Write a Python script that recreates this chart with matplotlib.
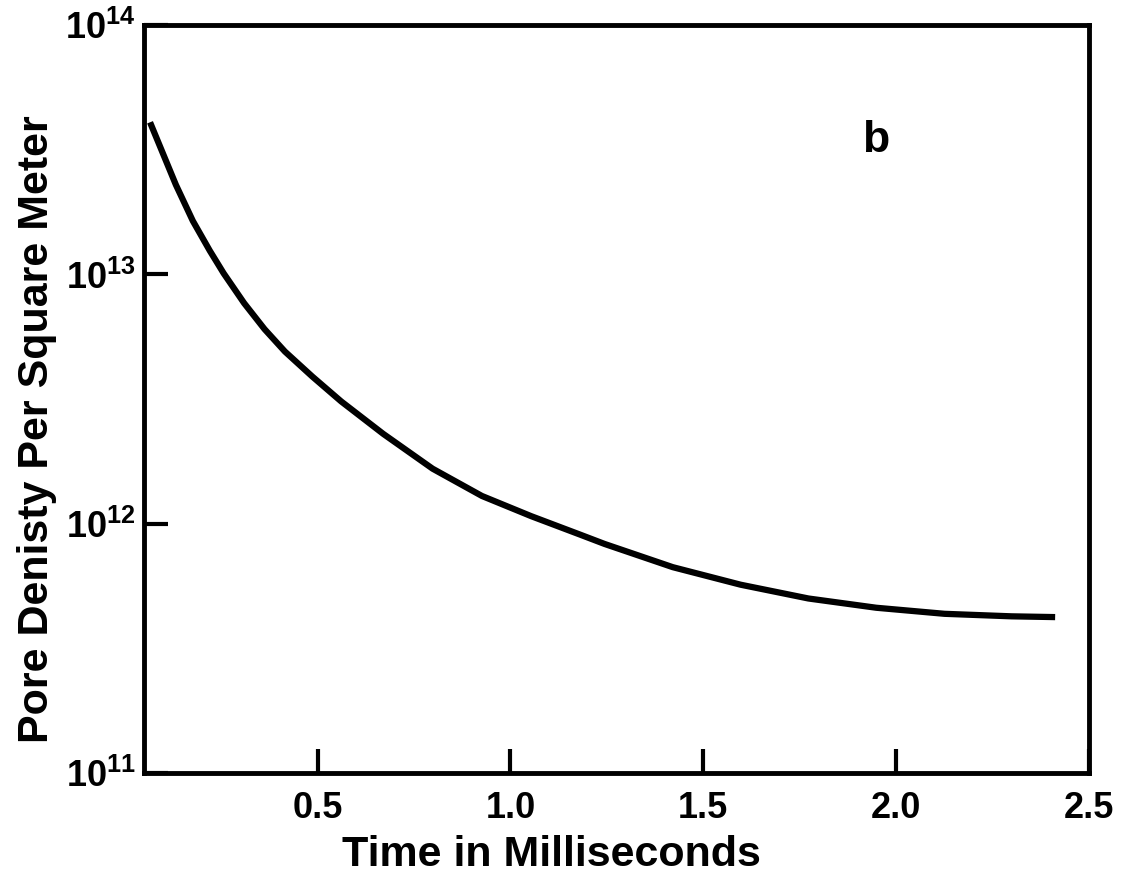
import matplotlib.pyplot as plt
from matplotlib.ticker import NullLocator

# values
time_ms = [0.065, 0.132, 0.176, 0.220, 0.256, 0.309, 0.362, 0.415, 0.486,
           0.561, 0.670, 0.798, 0.926, 1.054, 1.181, 1.244, 1.421, 1.597,
           1.773, 1.949, 2.126, 2.300, 2.413]
pore_density = [4.08e13, 2.29e13, 1.64e13, 1.245e13, 1.01e13, 7.67e12,
                6.03e12, 4.90e12, 3.89e12, 3.09e12, 2.29e12, 1.66e12,
                1.29e12, 1.07e12, 9.02e11, 8.28e11, 6.68e11, 5.68e11,
                5.00e11, 4.59e11, 4.34e11, 4.24e11, 4.21e11]

x_ticks = [0.5, 1.0, 1.5, 2.0, 2.5]
x_labels = ["0.5", "1.0", "1.5", "2.0", "2.5"]
y_ticks = [1e11, 1e12, 1e13, 1e14]
y_labels = [r"$\mathbf{10^{11}}$", r"$\mathbf{10^{12}}$",
            r"$\mathbf{10^{13}}$", r"$\mathbf{10^{14}}$"]

plt.rcParams['font.family'] = ['Liberation Sans', 'DejaVu Sans']
plt.rcParams['font.weight'] = 'bold'
plt.rcParams['mathtext.fontset'] = 'custom'
plt.rcParams['mathtext.bf'] = 'Liberation Sans:bold'
plt.rcParams['mathtext.rm'] = 'Liberation Sans:bold'

fig = plt.figure(figsize=(11.27, 8.73), dpi=100)
ax = fig.add_axes([0.128, 0.115, 0.838, 0.856])

ax.plot(time_ms, pore_density, color='black', lw=4.5,
        solid_capstyle='butt', solid_joinstyle='round')

ax.set_yscale('log')
ax.set_xlim(0.05, 2.5)
ax.set_ylim(1e11, 1e14)
ax.yaxis.set_minor_locator(NullLocator())

ax.set_xticks(x_ticks)
ax.set_xticklabels(x_labels, fontsize=26, fontweight='bold')
ax.set_yticks(y_ticks)
ax.set_yticklabels(y_labels, fontsize=26)

ax.tick_params(axis='both', direction='in', length=17, width=3, color='black')
ax.tick_params(axis='x', pad=13)
ax.tick_params(axis='y', pad=6)
for s in ax.spines.values():
    s.set_linewidth(3.5)

ax.set_xlabel("Time in Milliseconds", fontsize=31, fontweight='bold')
ax.xaxis.set_label_coords(0.431, -0.083)
ax.set_ylabel("Pore Denisty Per Square Meter", fontsize=31, fontweight='bold')
ax.yaxis.set_label_coords(-0.092, 0.459)

ax.text(0.774, 0.846, "b", transform=ax.transAxes, fontsize=32,
        fontweight='bold', ha='center', va='center')

fig.savefig("out.png", dpi=100)
